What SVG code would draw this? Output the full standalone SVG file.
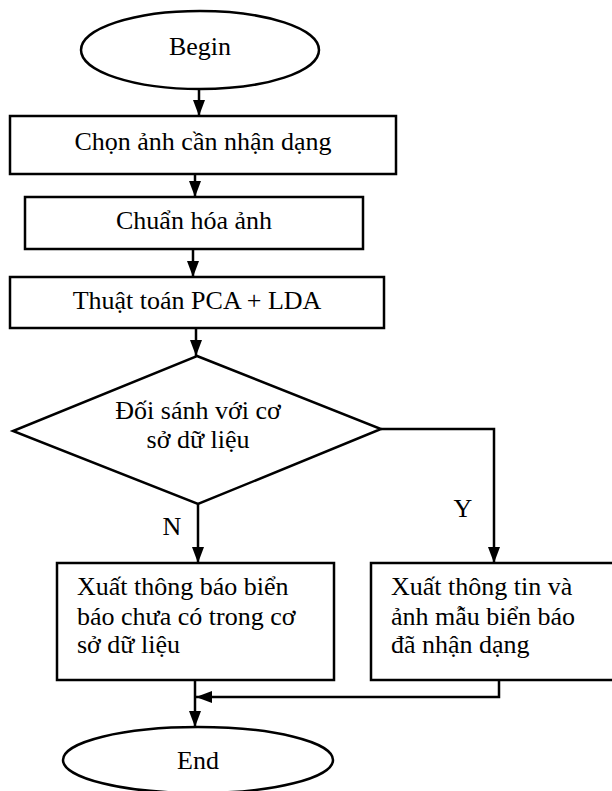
<svg xmlns="http://www.w3.org/2000/svg" width="612" height="791" viewBox="0 0 612 791">
<style>
.s{fill:#fff;stroke:#000;stroke-width:2.5}
.t{font-family:"Liberation Serif","Times New Roman",serif;font-size:26px;fill:#000}
.c{text-anchor:middle}
.l{fill:none;stroke:#000;stroke-width:2.5}
</style>
<defs>
<marker id="a" viewBox="0 0 16 12" refX="16" refY="6" markerWidth="16" markerHeight="12" orient="auto" markerUnits="userSpaceOnUse">
<path d="M0,0 L16,6 L0,12 z" fill="#000"/>
</marker>
</defs>
<rect width="612" height="791" fill="#fff"/>
<g id="connectors">
<path class="l" d="M199,89 V116" marker-end="url(#a)"/>
<path class="l" d="M195,174 V197" marker-end="url(#a)"/>
<path class="l" d="M193,249 V277" marker-end="url(#a)"/>
<path class="l" d="M196,328 V356" marker-end="url(#a)"/>
<path class="l" d="M198,504 V563" marker-end="url(#a)"/>
<path class="l" d="M381,429 H494 V563" marker-end="url(#a)"/>
<path class="l" d="M195,680 V727" marker-end="url(#a)"/>
<path class="l" d="M499,680 V697 H196" marker-end="url(#a)"/>
<text class="t" x="172" y="535" text-anchor="middle">N</text>
<text class="t" x="463" y="517" text-anchor="middle">Y</text>
</g>
<g id="begin">
<ellipse class="s" cx="200" cy="50" rx="119" ry="39"/>
<text class="t c" x="200" y="55">Begin</text>
</g>
<g id="chon">
<rect class="s" x="10" y="116" width="386" height="58"/>
<text class="t c" x="203" y="150">Chọn ảnh cần nhận dạng</text>
</g>
<g id="chuanhoa">
<rect class="s" x="25" y="197" width="338" height="52"/>
<text class="t c" x="194" y="229">Chuẩn hóa ảnh</text>
</g>
<g id="thuattoan">
<rect class="s" x="10" y="277" width="374" height="51"/>
<text class="t c" x="197" y="309">Thuật toán PCA + LDA</text>
</g>
<g id="doisanh">
<polygon class="s" points="197,356 381,429 198,504 13,431"/>
<text class="t c" x="198" y="419">Đối sánh với cơ</text>
<text class="t c" x="198" y="448">sở dữ liệu</text>
</g>
<g id="chuaco">
<rect class="s" x="57" y="563" width="277" height="117"/>
<text class="t" x="77" y="595">Xuất thông báo biển</text>
<text class="t" x="77" y="625">báo chưa có trong cơ</text>
<text class="t" x="77" y="653">sở dữ liệu</text>
</g>
<g id="thongtin">
<rect class="s" x="371" y="563" width="245" height="117"/>
<text class="t" x="391" y="595">Xuất thông tin và</text>
<text class="t" x="391" y="625">ảnh mẫu biển báo</text>
<text class="t" x="391" y="653">đã nhận dạng</text>
</g>
<g id="end">
<ellipse class="s" cx="198" cy="760" rx="135" ry="33"/>
<text class="t c" x="198" y="769">End</text>
</g>
</svg>
